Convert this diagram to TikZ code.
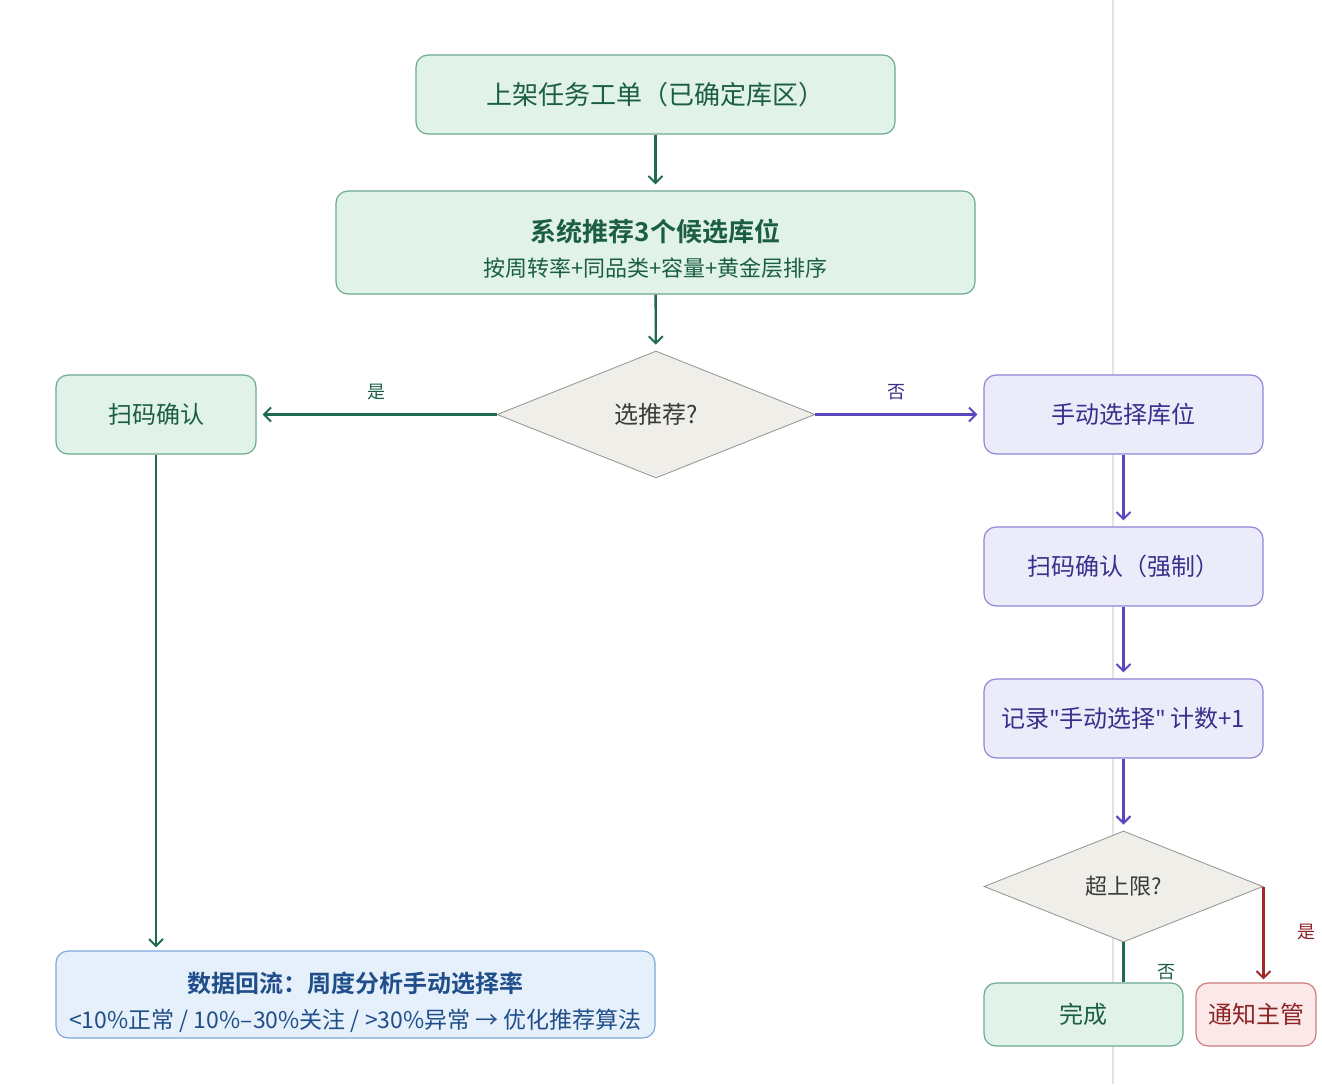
\documentclass[tikz,border=0pt]{standalone}
\usepackage{fontspec}
\setmainfont{Noto Sans CJK SC}
\newfontfamily\cjkb{Noto Sans CJK SC Bold}
\newfontfamily\latinq{Noto Sans}
\usetikzlibrary{shapes.geometric,arrows.meta}
\definecolor{gfill}{HTML}{E0F2EA}
\definecolor{gdraw}{HTML}{6EAA8E}
\definecolor{gtext}{HTML}{1B5E45}
\definecolor{garrow}{HTML}{1F6B4E}
\definecolor{pfill}{HTML}{ECEBFA}
\definecolor{pdraw}{HTML}{8E86D6}
\definecolor{ptext}{HTML}{3A2F8C}
\definecolor{parrow}{HTML}{5A47C0}
\definecolor{rfill}{HTML}{FBE9E9}
\definecolor{rdraw}{HTML}{CC7C7C}
\definecolor{rtext}{HTML}{8B2424}
\definecolor{rarrow}{HTML}{A3282C}
\definecolor{bfill}{HTML}{E6F0FB}
\definecolor{bdraw}{HTML}{80A9DC}
\definecolor{btext}{HTML}{1F4E8A}
\definecolor{dfill}{HTML}{F0EEE9}
\definecolor{ddraw}{HTML}{9A9A9A}
\definecolor{dtext}{HTML}{3A3A3A}
\tikzset{
  box/.style={rectangle, rounded corners=12pt, line width=1.2pt, align=center, inner sep=0pt},
  gbox/.style={box, fill=gfill, draw=gdraw, text=gtext},
  pbox/.style={box, fill=pfill, draw=pdraw, text=ptext},
  rbox/.style={box, fill=rfill, draw=rdraw, text=rtext},
  bbox/.style={box, fill=bfill, draw=bdraw, text=btext},
  dec/.style={diamond, fill=dfill, draw=ddraw, line width=0.9pt, text=dtext, inner sep=0pt},
  conn/.style={line width=2.4pt, -{Straight Barb[length=7pt,width=14pt,line width=2pt]}, shorten >=6pt},
  lbl/.style={font=\fontsize{18}{20}\selectfont, inner sep=0pt},
  big/.style={font=\fontsize{24}{28}\selectfont},
}
\begin{document}
\begin{tikzpicture}[x=1pt,y=-1pt]
\useasboundingbox (0,0) rectangle (1322,1084);
\fill[white] (0,0) rectangle (1322,1084);
\draw[line width=1.5pt, color=black!11] (1113,0) -- (1113,1084);

\node[gbox, font=\fontsize{26}{30}\selectfont, minimum width=479pt, minimum height=79pt] (t) at (655.5,94.5) {上架任务工单（已确定库区）};
\node[gbox, minimum width=639pt, minimum height=103pt] (r) at (655.5,242.5) {};
\node[align=center, text=gtext, inner sep=0pt, font=\fontsize{22}{35}\selectfont, yshift=-6.5pt] (rt) at (r)
  {{\cjkb\fontsize{26}{35}\selectfont 系统推荐3个候选库位}\\{\fontsize{22}{35}\selectfont 按周转率+同品类+容量+黄金层排序}};
\node[dec, big, minimum width=318pt, minimum height=127pt] (d1) at (656,414.5) {选推荐?};
\node[gbox, big, minimum width=200pt, minimum height=79pt] (s) at (156,414.5) {扫码确认};
\node[pbox, big, minimum width=279pt, minimum height=79pt] (m) at (1123.5,414.5) {手动选择库位};
\node[pbox, big, minimum width=279pt, minimum height=79pt] (f) at (1123.5,566.5) {扫码确认（强制）};
\node[pbox, big, minimum width=279pt, minimum height=79pt] (c) at (1123.5,718.5) {记录{\latinq"}手动选择{\latinq"} 计数+1};
\node[dec, font=\fontsize{22}{26}\selectfont, minimum width=279pt, minimum height=111pt] (d2) at (1123.5,886.5) {超上限?};
\node[gbox, big, minimum width=199pt, minimum height=63pt] (done) at (1083.5,1014.5) {完成};
\node[rbox, big, minimum width=120pt, minimum height=63pt] (n) at (1256,1014.5) {通知主管};
\node[bbox, minimum width=599pt, minimum height=87pt] (db) at (355.5,994.5) {};
\node[align=center, text=btext, inner sep=0pt, font=\fontsize{23}{36}\selectfont, yshift=-7.5pt] (dbt) at (db)
  {{\cjkb\fontsize{24}{36}\selectfont 数据回流：周度分析手动选择率}\\{\fontsize{23}{36}\selectfont <10\%正常 / 10\%–30\%关注 / >30\%异常 → 优化推荐算法}};

\draw[conn, garrow] (t) -- (r);
\draw[conn, garrow] (r) -- (d1);
\draw[conn, garrow] (d1.west) -- (s.east);
\node[lbl, text=gtext] (l1) at (376,392) {是};
\draw[conn, parrow] (d1.east) -- (m.west);
\node[lbl, text=ptext] (l2) at (896,392) {否};
\draw[conn, garrow, shorten >=3pt] (s) -- (db.north -| s);
\draw[conn, parrow] (m) -- (f);
\draw[conn, parrow] (f) -- (c);
\draw[conn, parrow] (c) -- (d2);
\draw[line width=2.4pt, garrow] (d2.south) -- (done.north -| d2.south);
\node[lbl, text=gtext] (l3) at (1166,972) {否};
\draw[conn, rarrow, shorten >=3pt] (d2.east) -- (n.north -| d2.east);
\node[lbl, text=rtext] (l4) at (1306,932) {是};
\end{tikzpicture}
\end{document}
